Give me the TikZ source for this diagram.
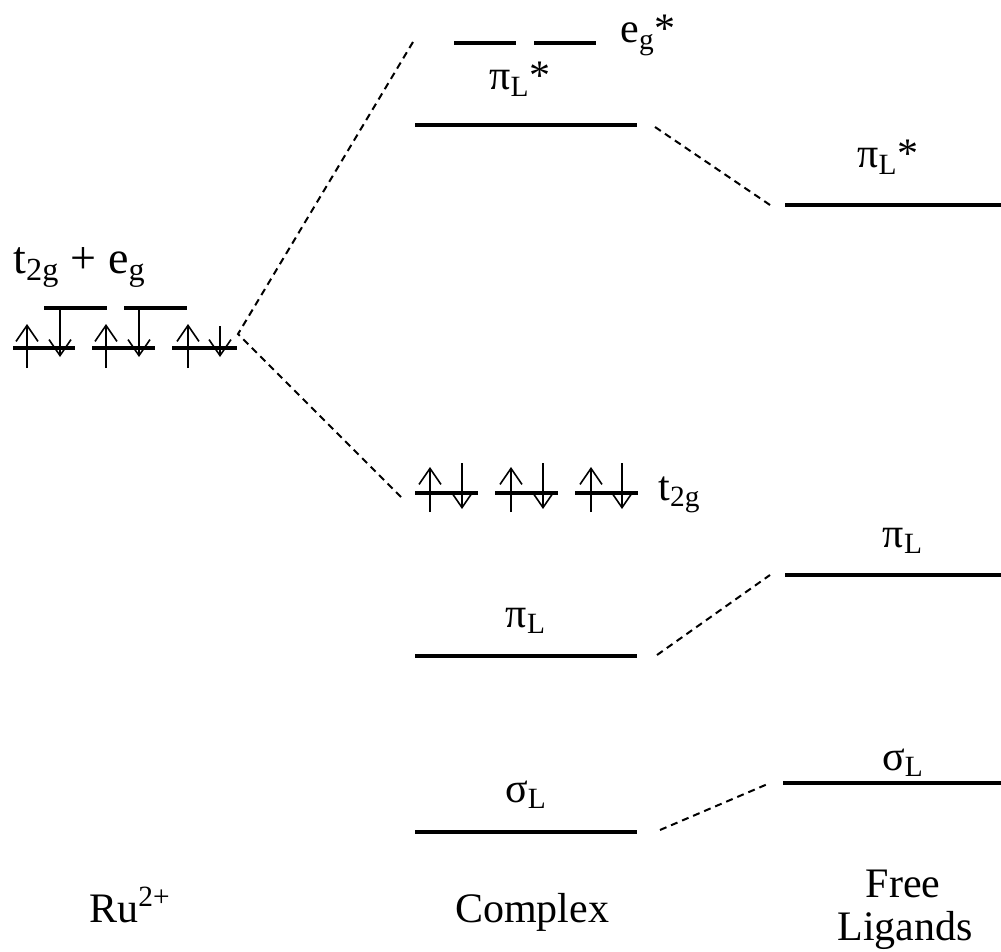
\documentclass[tikz,border=0pt]{standalone}
\usepackage{fontspec}
\setmainfont{Liberation Serif}
\usetikzlibrary{arrows.meta}
\tikzset{
  level/.style={line width=2pt},
  spin/.style={line width=0.8pt,-{Straight Barb[length=8pt,width=11pt,line width=0.8pt]}},
  corr/.style={line width=1pt,dash pattern=on 3.5pt off 2.5pt},
  lbl/.style={font=\fontsize{21}{24}\selectfont,inner sep=0pt},
}
\newcommand{\lsub}[1]{\textsubscript{#1}}
\begin{document}
\begin{tikzpicture}[x=0.5pt,y=-0.5pt]
\useasboundingbox (0,0) rectangle (1001,952);
% ---- Ru2+ levels ----
\draw[level] (13,348) -- (75,348);
\draw[level] (92,348) -- (155,348);
\draw[level] (172,348) -- (237,348);
\draw[level] (44,308) -- (107,308);
\draw[level] (124,308) -- (187,308);
\foreach \x in {27,106,188} \draw[spin] (\x,368) -- (\x,324);
\foreach \x in {60,139} \draw[spin] (\x,310) -- (\x,357);
\draw[spin] (220,326) -- (220,357);
\node[lbl,font=\fontsize{23}{28}\selectfont,anchor=base west] (ruLab) at (13,273) {t\lsub{2g} + e\lsub{g}};
\coordinate (ru) at (238,334);
% ---- Complex levels ----
\draw[level] (454,43) -- (516,43);
\draw[level] (534,43) -- (596,43);
\node[lbl,anchor=base west] (egs) at (620,43) {e\lsub{g}*};
\draw[level] (415,125) -- (637,125);
\node[lbl,anchor=base] (cpisLab) at (520,90) {π\lsub{L}*};
\draw[level] (415,493) -- (478,493);
\draw[level] (495,493) -- (558,493);
\draw[level] (575,493) -- (638,493);
\foreach \x in {430,511,591} \draw[spin] (\x,512) -- (\x,467);
\foreach \x in {462,543,622} \draw[spin] (\x,463) -- (\x,509);
\node[lbl,anchor=base west] (t2g) at (658,500) {t\lsub{2g}};
\draw[level] (415,656) -- (637,656);
\node[lbl,anchor=base] (cpiLab) at (526,627) {π\lsub{L}};
\draw[level] (415,832) -- (637,832);
\node[lbl,anchor=base] (csigLab) at (526,802) {σ\lsub{L}};
% ---- Free ligand levels ----
\draw[level] (785,205) -- (1001,205);
\node[lbl,anchor=base] (fpisLab) at (888,168) {π\lsub{L}*};
\draw[level] (785,575) -- (1001,575);
\node[lbl,anchor=base] (fpiLab) at (903,547) {π\lsub{L}};
\draw[level] (783,783) -- (1001,783);
\node[lbl,anchor=base] (fsigLab) at (903,770) {σ\lsub{L}};
% ---- correlation lines ----
\coordinate (egTop) at (413,42);
\coordinate (t2gL) at (401,497);
\coordinate (cpisE) at (655,127);
\coordinate (fpisE) at (770,205);
\coordinate (cpiE) at (657,655);
\coordinate (fpiE) at (770,575);
\coordinate (csigE) at (660,830);
\coordinate (fsigE) at (770,783);
\draw[corr] (egTop) -- (ru) -- (t2gL);
\draw[corr] (cpisE) -- (fpisE);
\draw[corr] (cpiE) -- (fpiE);
\draw[corr] (csigE) -- (fsigE);
% ---- column titles ----
\node[lbl,anchor=base] (ru2) at (130,922) {Ru\textsuperscript{2+}};
\node[lbl,anchor=base] (cx) at (532,922) {Complex};
\node[lbl,anchor=base] (fr) at (903,897) {Free};
\node[lbl,anchor=base] (lg) at (905,940) {Ligands};
\end{tikzpicture}
\end{document}
